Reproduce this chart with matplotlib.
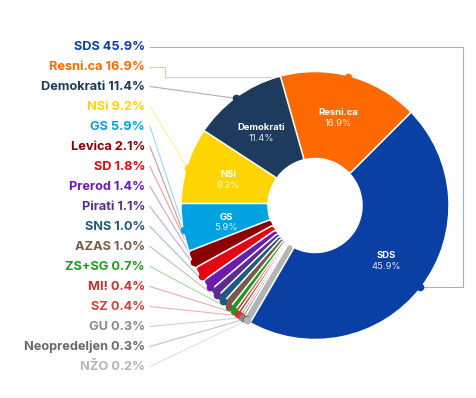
import numpy as np
import matplotlib
matplotlib.use("Agg")
from matplotlib import pyplot as plt
from matplotlib.patches import Wedge

plt.rcParams['font.family'] = ['Inter', 'DejaVu Sans']

# party results (%)
parties = ["SDS", "Resni.ca", "Demokrati", "NSi", "GS", "Levica", "SD", "Prerod",
           "Pirati", "SNS", "AZAS", "ZS+SG", "MI!", "SZ", "GU", "Neopredeljen", "NŽO"]
shares = [45.9, 16.9, 11.4, 9.2, 5.9, 2.1, 1.8, 1.4, 1.1, 1.0, 1.0, 0.7, 0.4, 0.4, 0.3, 0.3, 0.2]
colors = ["#0a3fa3", "#ff6a00", "#1e3a5c", "#ffd500", "#00a3e0", "#8b0000", "#e30613", "#6a1bb0",
          "#5c2d91", "#1c5a80", "#7a5a4b", "#1e9a1e", "#c8322d", "#d0403a", "#8a8a8a", "#6a6a6a", "#b4b4b4"]

W, H = 477, 398
fig = plt.figure(figsize=(W / 100, H / 100), dpi=100)
ax = fig.add_axes([0, 0, 1, 1])
ax.set_xlim(0, W)
ax.set_ylim(0, H)
ax.axis("off")

cx, cy = 315, H - 205.5   # pixel centre, y flipped
R, r_in = 133, 48
px = 0.72  # points per pixel at dpi 100

# angles: SDS ends at 45 deg, rest go counterclockwise
start = 45 - shares[0] * 3.6
bounds = [start]
for s in shares:
    bounds.append(bounds[-1] + s * 3.6)

# slices: white halo then coloured body with round corners
for i, (s, c) in enumerate(zip(shares, colors)):
    t1, t2 = bounds[i], bounds[i + 1]
    body = 2.5 if s >= 5 else 4.5
    ax.add_patch(Wedge((cx, cy), R - 1, t1, t2, width=R - r_in - 2, facecolor="white",
                       edgecolor="white", lw=(body + 3.2) * px, joinstyle="round", zorder=2))
    ax.add_patch(Wedge((cx, cy), R - 1, t1, t2, width=R - r_in - 2, facecolor=c,
                       edgecolor=c, lw=body * px, joinstyle="round", zorder=2))

# labels inside the bigger slices
for i, (name, s) in enumerate(zip(parties, shares)):
    if s < 5:
        continue
    mid = np.radians((bounds[i] + bounds[i + 1]) / 2)
    rr = (R + r_in) / 2
    x, y = cx + rr * np.cos(mid), cy + rr * np.sin(mid)
    ax.text(x, y + 5, name, color="white", fontsize=6.8, fontweight="bold",
            ha="center", va="center", zorder=5)
    ax.text(x, y - 5.5, f"{s}%", color="white", alpha=0.85, fontsize=6.8,
            ha="center", va="center", zorder=5)

# legend texts on the left with connector lines and end dots
for i, (name, s, c) in enumerate(zip(parties, shares, colors)):
    ly = H - (46.5 + 20 * i)
    ax.text(145, ly, f"{name} {s}%", color=c, fontsize=9.2, fontweight="bold",
            ha="right", va="center", zorder=5)
    mid = np.radians((bounds[i] + bounds[i + 1]) / 2)
    dx, dy = cx + R * np.cos(mid), cy + R * np.sin(mid)
    if i == 0:
        xs, ys = [150, 463, 463, dx], [ly, ly, dy, dy]
    elif i == 1:
        xs, ys = [150, 165, 165, dx], [ly, ly, dy, dy]
    else:
        xs, ys = [150, dx], [ly, dy]
    ax.plot(xs, ys, color=c, alpha=0.4, lw=0.8, zorder=1)
    ax.plot(dx, dy, "o", color=c, ms=5.5, mew=0, zorder=4)

fig.savefig("out.png", dpi=100)
